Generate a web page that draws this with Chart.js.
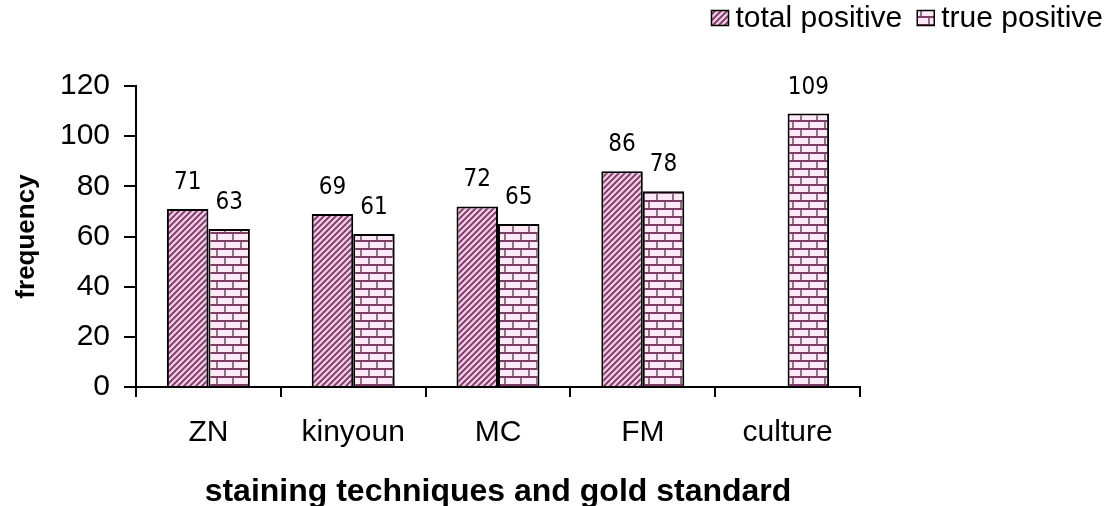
<!DOCTYPE html>
<html>
<head>
<meta charset="utf-8">
<script src="https://cdn.jsdelivr.net/npm/chart.js@4.4.1/dist/chart.umd.min.js"></script>
<style>
  html, body { margin: 0; padding: 0; background: #ffffff; }
  #wrap { width: 1120px; height: 506px; }
</style>
</head>
<body>
<div id="wrap"><canvas id="c" width="1120" height="506"></canvas></div>
<script>
// Data
const categories = ['ZN', 'kinyoun', 'MC', 'FM', 'culture'];
const totalPositive = [71, 69, 72, 86, null];
const truePositive = [63, 61, 65, 78, 109];
const seriesNames = ['total positive', 'true positive'];
const yTicks = [0, 20, 40, 60, 80, 100, 120];

const SANS = '"Liberation Sans", Arial, sans-serif';
const NARROW = '"Liberation Sans Narrow", "DejaVu Sans Condensed", "Liberation Sans", sans-serif';

// Fill patterns
function hatchPattern() {
  const s = 6;
  const t = document.createElement('canvas');
  t.width = s; t.height = s;
  const g = t.getContext('2d');
  g.fillStyle = '#efcae3';
  g.fillRect(0, 0, s, s);
  g.strokeStyle = '#7a3563';
  g.lineWidth = 1.8;
  g.beginPath();
  g.moveTo(-1, s + 1); g.lineTo(s + 1, -1);
  g.moveTo(-1, 1); g.lineTo(1, -1);
  g.moveTo(s - 1, s + 1); g.lineTo(s + 1, s - 1);
  g.stroke();
  return document.getElementById('c').getContext('2d').createPattern(t, 'repeat');
}

function brickPattern() {
  const w = 16, h = 16;
  const t = document.createElement('canvas');
  t.width = w; t.height = h;
  const g = t.getContext('2d');
  g.fillStyle = '#fde8f7';
  g.fillRect(0, 0, w, h);
  g.strokeStyle = '#7e3d66';
  g.lineWidth = 2;
  g.beginPath();
  g.moveTo(0, 1); g.lineTo(w, 1);
  g.moveTo(0, 9); g.lineTo(w, 9);
  g.stroke();
  g.strokeStyle = '#6a4a5e';
  g.lineWidth = 1.5;
  g.beginPath();
  g.moveTo(1, 1); g.lineTo(1, 9);
  g.moveTo(9, 9); g.lineTo(9, 16);
  g.stroke();
  return document.getElementById('c').getContext('2d').createPattern(t, 'repeat');
}

const fills = [hatchPattern(), brickPattern()];

// Value labels above each bar
const valueLabels = {
  id: 'valueLabels',
  afterDatasetsDraw(chart) {
    const ctx = chart.ctx;
    ctx.save();
    ctx.font = '24px ' + NARROW;
    ctx.fillStyle = '#000';
    ctx.textAlign = 'center';
    ctx.textBaseline = 'alphabetic';
    chart.data.datasets.forEach((ds, i) => {
      chart.getDatasetMeta(i).data.forEach((bar, j) => {
        const v = ds.data[j];
        if (v === null || v === undefined) return;
        ctx.fillText(String(v), bar.x, bar.y - 20);
      });
    });
    ctx.restore();
  }
};

// Legend in the top-right corner
const cornerLegend = {
  id: 'cornerLegend',
  afterDraw(chart) {
    const ctx = chart.ctx;
    ctx.save();
    ctx.font = '30px ' + SANS;
    ctx.textBaseline = 'middle';
    ctx.textAlign = 'left';
    const box = 17, boxH = 15, gapText = 7, gapItem = 15, cy = 18, right = 1103;
    const items = chart.data.datasets.map(ds => ({ label: ds.label, fill: ds.backgroundColor }));
    let total = 0;
    items.forEach((it, i) => {
      it.w = ctx.measureText(it.label).width;
      total += box + gapText + it.w + (i ? gapItem : 0);
    });
    let x = right - total;
    items.forEach((it, i) => {
      if (i) x += gapItem;
      ctx.fillStyle = it.fill;
      ctx.fillRect(x, cy - boxH / 2, box, boxH);
      ctx.strokeStyle = '#000';
      ctx.lineWidth = 1.5;
      ctx.strokeRect(x, cy - boxH / 2, box, boxH);
      x += box + gapText;
      ctx.fillStyle = '#000';
      ctx.fillText(it.label, x, cy + 1);
      x += it.w;
    });
    ctx.restore();
  }
};

new Chart(document.getElementById('c'), {
  type: 'bar',
  data: {
    labels: categories,
    datasets: [
      { label: seriesNames[0], data: totalPositive, backgroundColor: fills[0], borderColor: '#000', borderWidth: 2, borderSkipped: 'start' },
      { label: seriesNames[1], data: truePositive, backgroundColor: fills[1], borderColor: '#000', borderWidth: 2, borderSkipped: 'start' }
    ]
  },
  options: {
    responsive: false,
    devicePixelRatio: 1,
    animation: false,
    layout: { padding: { top: 86, right: 260, left: 0, bottom: 0 } },
    datasets: { bar: { categoryPercentage: 0.573, barPercentage: 1 } },
    plugins: { legend: { display: false }, tooltip: { enabled: false } },
    scales: {
      x: {
        grid: { display: true, drawOnChartArea: false, drawTicks: true, tickLength: 10, color: '#000', lineWidth: 2, offset: true },
        border: { display: true, color: '#000', width: 2 },
        ticks: { color: '#000', font: { family: SANS, size: 30 }, padding: 18, maxRotation: 0 },
        title: { display: true, text: 'staining techniques and gold standard', color: '#000',
                 font: { family: SANS, size: 32, weight: 'bold', lineHeight: 1 }, padding: { top: 0, bottom: -2 } },
        afterFit(s) { s.height = 119; }
      },
      y: {
        min: 0, max: 120,
        afterBuildTicks(s) { s.ticks = yTicks.map(v => ({ value: v })); },
        grid: { display: true, drawOnChartArea: false, drawTicks: true, tickLength: 12, color: '#000', lineWidth: 2 },
        border: { display: true, color: '#000', width: 2 },
        ticks: { color: '#000', font: { family: SANS, size: 30 }, padding: 14 },
        title: { display: true, text: 'frequency', color: '#000',
                 font: { family: SANS, size: 26, weight: 'bold', lineHeight: 1 }, padding: { top: 14, bottom: 0 } },
        afterFit(s) { s.width = 136; }
      }
    }
  },
  plugins: [valueLabels, cornerLegend]
});
</script>
</body>
</html>
